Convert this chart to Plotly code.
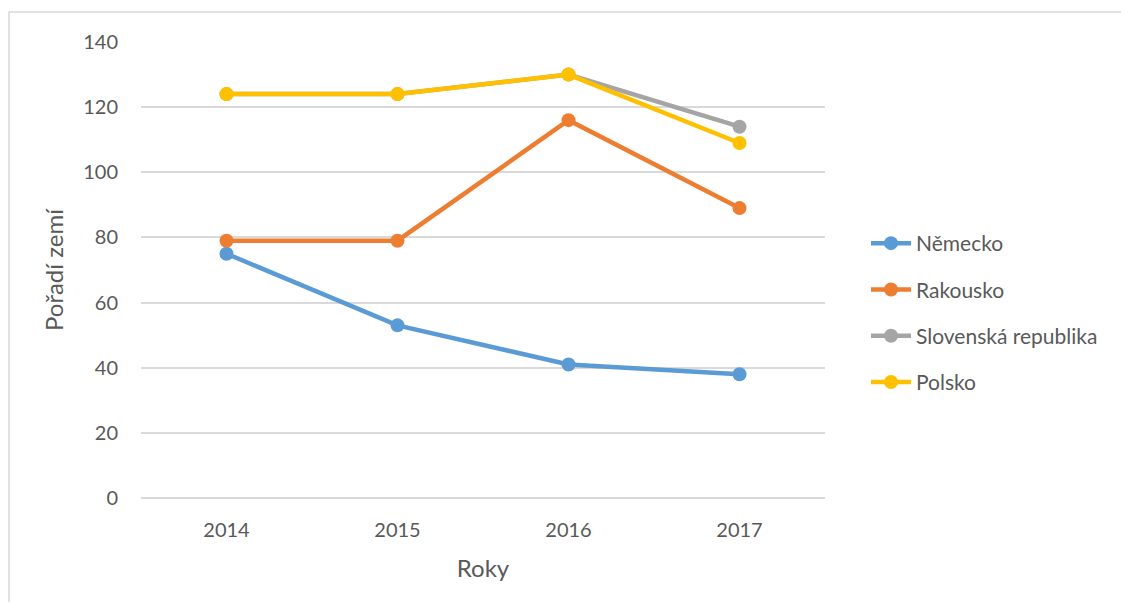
import plotly.graph_objects as go

years = ["2014", "2015", "2016", "2017"]
nemecko = [75, 53, 41, 38]
rakousko = [79, 79, 116, 89]
slovensko = [124, 124, 130, 114]
polsko = [124, 124, 130, 109]

series = [
    ("Německo", nemecko, "#5B9BD5"),
    ("Rakousko", rakousko, "#ED7D31"),
    ("Slovenská republika", slovensko, "#A5A5A5"),
    ("Polsko", polsko, "#FFC000"),
]

FONT = "Lato, Liberation Sans, sans-serif"
TXT = "#595959"

fig = go.Figure()
for i, (name, vals, col) in enumerate(series):
    fig.add_trace(go.Scatter(
        x=years, y=vals, name=name, mode="lines+markers",
        line=dict(color=col, width=4.5),
        marker=dict(color=col, size=14),
        legendgroup=f"g{i}",
    ))

OFF = 8  # page body margin
W, H = 1129 - 2 * OFF, 610 - 2 * OFF
# desired plot area in screen px: x 141..825, y 42..498
l, t = 141 - OFF, 42 - OFF
r = W - (825 - OFF)
b = H - (498 - OFF)
pw, ph = W - l - r, H - t - b

fig.update_layout(
    width=W, height=H,
    margin=dict(l=l, r=r, t=t, b=b),
    paper_bgcolor="white", plot_bgcolor="white",
    font=dict(family=FONT, color=TXT, size=20),
    showlegend=True,
    legend=dict(
        x=(866 - 141) / pw, y=1 - (223 - 42) / ph, xanchor="left", yanchor="top",
        font=dict(size=21, color=TXT, family=FONT),
        tracegroupgap=16, itemwidth=40, bgcolor="rgba(0,0,0,0)",
    ),
    xaxis=dict(
        type="category", range=[-0.5, 3.5],
        showgrid=False, showline=False, zeroline=False, ticks="",
        ticklabelstandoff=18,
        tickfont=dict(size=20, color=TXT),
        title=dict(text="Roky", font=dict(size=24, color=TXT), standoff=20),
    ),
    yaxis=dict(
        range=[0, 140], dtick=20,
        showgrid=True, gridcolor="#D9D9D9", gridwidth=1.5,
        zeroline=True, zerolinecolor="#D9D9D9", zerolinewidth=1.5,
        showline=False, ticks="", ticklabelstandoff=22,
        tickfont=dict(size=20, color=TXT),
        title=dict(text="Pořadí zemí", font=dict(size=24, color=TXT), standoff=12),
    ),
    shapes=[dict(
        type="rect", xref="paper", yref="paper",
        x0=(9 - 141) / pw, x1=(1140 - 141) / pw,
        y0=1 + (42 - 12) / ph, y1=-(620 - 498) / ph,
        line=dict(color="#D9D9D9", width=1.5), layer="below",
    )],
)

fig.write_html("out.html")
